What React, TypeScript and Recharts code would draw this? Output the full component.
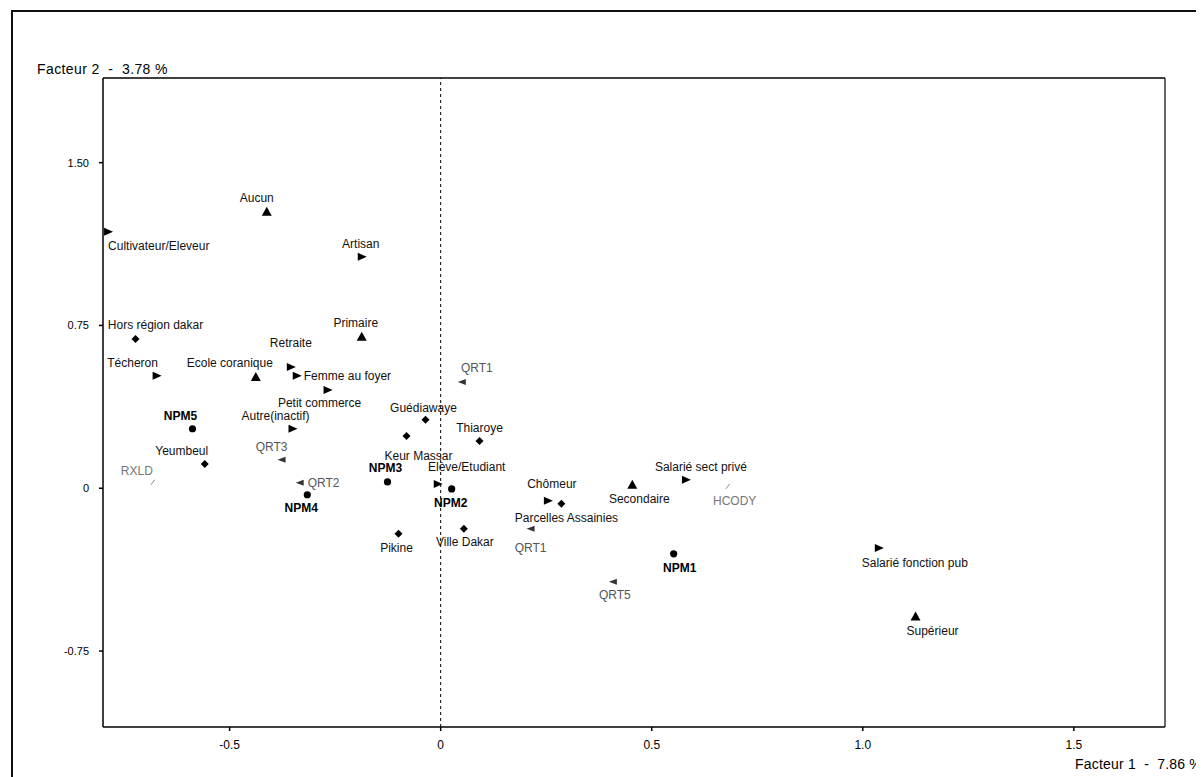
import React from 'react';
import { ScatterChart, Scatter, XAxis, YAxis, ReferenceLine } from 'recharts';

const FONT = '"Liberation Sans", Arial, sans-serif';

// Axis extents and ticks
const X_MIN = -0.8;
const X_MAX = 1.716;
const Y_MIN = -1.1;
const Y_MAX = 1.89;
const xTicks = [-0.5, 0, 0.5, 1, 1.5];
const xTickLabels = ['-0.5', '0', '0.5', '1.0', '1.5'];
const yTicks = [1.5, 0.75, 0, -0.75];
const yTickLabels = ['1.50', '0.75', '0', '-0.75'];
const xTitle = 'Facteur 1  -  7.86 %';
const yTitle = 'Facteur 2  -  3.78 %';

// Niveau d'instruction (triangles)
const educationNames = ['Aucun', 'Primaire', 'Ecole coranique', 'Secondaire', 'Supérieur'];
const educationF1 = [-0.412, -0.187, -0.438, 0.454, 1.125];
const educationF2 = [1.274, 0.698, 0.513, 0.016, -0.591];

// Profession (right triangles)
const occupationNames = [
  'Cultivateur/Eleveur', 'Artisan', 'Técheron', 'Retraite', 'Femme au foyer',
  'Petit commerce', 'Autre(inactif)', 'Elève/Etudiant', 'Chômeur',
  'Salarié sect privé', 'Salarié fonction pub',
];
const occupationF1 = [-0.788, -0.187, -0.673, -0.355, -0.341, -0.268, -0.351, -0.007, 0.254, 0.581, 1.038];
const occupationF2 = [1.182, 1.066, 0.518, 0.559, 0.518, 0.453, 0.274, 0.02, -0.058, 0.039, -0.275];

// Zone (diamonds)
const zoneNames = ['Hors région dakar', 'Yeumbeul', 'Guédiawaye', 'Keur Massar', 'Thiaroye', 'Pikine', 'Ville Dakar', 'Parcelles Assainies'];
const zoneF1 = [-0.723, -0.559, -0.036, -0.081, 0.092, -0.1, 0.055, 0.286];
const zoneF2 = [0.688, 0.112, 0.315, 0.241, 0.218, -0.21, -0.187, -0.072];

// NPM (circles)
const npmNames = ['NPM1', 'NPM2', 'NPM3', 'NPM4', 'NPM5'];
const npmF1 = [0.552, 0.026, -0.126, -0.316, -0.588];
const npmF2 = [-0.302, -0.003, 0.029, -0.03, 0.274];

// QRT (left triangles)
const qrtNames = ['QRT1', 'QRT2', 'QRT3', 'QRT1', 'QRT5'];
const qrtF1 = [0.05, -0.334, -0.377, 0.213, 0.408];
const qrtF2 = [0.49, 0.025, 0.131, -0.187, -0.431];

// Other (faint)
const otherNames = ['HCODY', 'RXLD'];
const otherF1 = [0.68, -0.682];
const otherF2 = [0.006, 0.025];

// Label placement relative to each marker (style only)
type Place = [number, number, string?];
const educationPlace: Place[] = [[-10, -14], [-6, -14], [-26, -14], [7, 14], [17, 14]];
const occupationPlace: Place[] = [
  [0, 14, 'start'], [-1, -13], [-24, -13], [0, -24], [7, 0, 'start'],
  [-8, 13], [-17, -13], [29, -17], [4, -17], [15, -13], [36, 15],
];
const zonePlace: Place[] = [[20, -14], [-23, -13], [-2, -12], [12, 20], [0, -13], [-2, 14], [1, 13], [5, 14]];
const npmPlace: Place[] = [[6, 14], [-1, 14], [-2, -14], [-6, 13], [-12, -13]];
const qrtPlace: Place[] = [[15, -14], [8, 0, 'start'], [-10, -13], [0, 19], [2, 13]];
const otherPlace: Place[] = [[7, 14], [-16, -12]];

const build = (names: string[], f1: number[], f2: number[], place: Place[]) =>
  names.map((name, i) => ({
    name,
    x: f1[i],
    y: f2[i],
    dx: place[i][0],
    dy: place[i][1],
    anchor: place[i][2] || 'middle',
  }));

const educationData = build(educationNames, educationF1, educationF2, educationPlace);
const occupationData = build(occupationNames, occupationF1, occupationF2, occupationPlace);
const zoneData = build(zoneNames, zoneF1, zoneF2, zonePlace);
const npmData = build(npmNames, npmF1, npmF2, npmPlace);
const qrtData = build(qrtNames, qrtF1, qrtF2, qrtPlace);
const otherData = build(otherNames, otherF1, otherF2, otherPlace);

type Kind = 'up' | 'right' | 'diamond' | 'circle' | 'left' | 'tick';

const marker = (kind: Kind, cx: number, cy: number) => {
  switch (kind) {
    case 'up':
      return <polygon points={`${cx},${cy - 5} ${cx - 5},${cy + 4} ${cx + 5},${cy + 4}`} fill="#000" />;
    case 'right':
      return <polygon points={`${cx - 4},${cy - 4} ${cx + 5},${cy} ${cx - 4},${cy + 4}`} fill="#000" />;
    case 'diamond':
      return <polygon points={`${cx},${cy - 4} ${cx + 4},${cy} ${cx},${cy + 4} ${cx - 4},${cy}`} fill="#000" />;
    case 'circle':
      return <circle cx={cx} cy={cy} r={3.6} fill="#000" />;
    case 'left':
      return <polygon points={`${cx + 4},${cy - 3} ${cx - 4},${cy} ${cx + 4},${cy + 3}`} fill="#333" />;
    default:
      return <line x1={cx - 2} y1={cy + 2} x2={cx + 2} y2={cy - 3} stroke="#888" strokeWidth={1} />;
  }
};

const makeShape = (kind: Kind, color: string, weight: string) => (props: any) => {
  const { cx, cy, payload } = props;
  if (cx == null || cy == null) return <g />;
  return (
    <g>
      {marker(kind, cx, cy)}
      <text
        x={cx + payload.dx}
        y={cy + payload.dy}
        textAnchor={payload.anchor}
        dominantBaseline="central"
        fontFamily={FONT}
        fontSize={12}
        fontWeight={weight}
        fill={color}
      >
        {payload.name}
      </text>
    </g>
  );
};

const App = () => {
  return (
    <div style={{ position: 'relative', width: 1196, height: 769, overflow: 'hidden', background: '#fff' }}>
      <div
        style={{
          position: 'absolute',
          left: 3,
          top: 2,
          width: 1260,
          height: 800,
          borderLeft: '2px solid #111',
          borderTop: '2px solid #111',
        }}
      />
      <div
        style={{
          position: 'absolute',
          left: 29,
          top: 53,
          fontFamily: FONT,
          fontSize: 14,
          whiteSpace: 'pre',
          letterSpacing: 0.4,
          color: '#000',
        }}
      >
        {yTitle}
      </div>
      <div
        style={{
          position: 'absolute',
          right: 2,
          top: 748,
          fontFamily: FONT,
          fontSize: 14,
          lineHeight: '16px',
          whiteSpace: 'pre',
          letterSpacing: 0.2,
          color: '#000',
        }}
      >
        {xTitle}
      </div>
      <div style={{ position: 'absolute', left: 0, top: 0 }}>
        <ScatterChart width={1196} height={769} margin={{ top: 70, right: 39, bottom: 20, left: 35 }}>
          <XAxis
            type="number"
            dataKey="x"
            domain={[X_MIN, X_MAX]}
            ticks={xTicks}
            tickFormatter={(v: number) => xTickLabels[xTicks.indexOf(v)] ?? String(v)}
            allowDataOverflow
            height={30}
            stroke="#000"
            strokeWidth={1.5}
            tickSize={4}
            tickMargin={9}
            tick={{ fill: '#000', fontSize: 12, fontFamily: FONT }}
          />
          <YAxis
            type="number"
            dataKey="y"
            domain={[Y_MIN, Y_MAX]}
            ticks={yTicks}
            tickFormatter={(v: number) => yTickLabels[yTicks.indexOf(v)] ?? String(v)}
            allowDataOverflow
            width={60}
            stroke="#000"
            strokeWidth={1.5}
            tickSize={4}
            tickMargin={10}
            tick={{ fill: '#000', fontSize: 11, fontFamily: FONT }}
          />
          <ReferenceLine x={0} stroke="#000" strokeDasharray="3 3" />
          <ReferenceLine y={Y_MAX} stroke="#000" strokeWidth={1.5} />
          <ReferenceLine x={X_MAX} stroke="#000" strokeWidth={1.2} />
          <Scatter data={otherData} shape={makeShape('tick', '#777', 'normal')} isAnimationActive={false} />
          <Scatter data={qrtData} shape={makeShape('left', '#555', 'normal')} isAnimationActive={false} />
          <Scatter data={zoneData} shape={makeShape('diamond', '#111', 'normal')} isAnimationActive={false} />
          <Scatter data={occupationData} shape={makeShape('right', '#111', 'normal')} isAnimationActive={false} />
          <Scatter data={educationData} shape={makeShape('up', '#111', 'normal')} isAnimationActive={false} />
          <Scatter data={npmData} shape={makeShape('circle', '#000', 'bold')} isAnimationActive={false} />
        </ScatterChart>
      </div>
    </div>
  );
};

export default App;
